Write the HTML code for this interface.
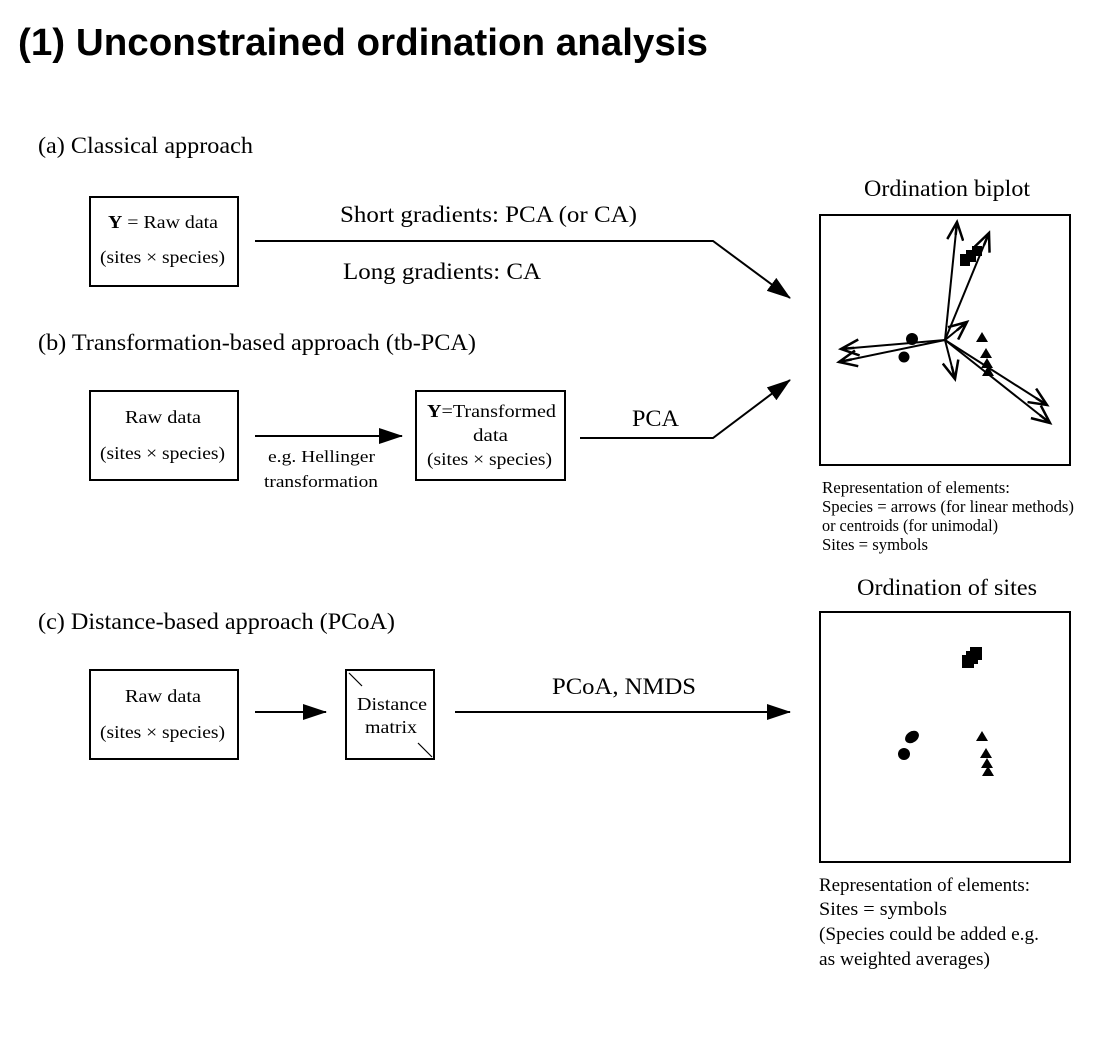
<!DOCTYPE html>
<html><head><meta charset="utf-8"><style>
body{margin:0;background:#fff;width:1110px;height:1042px;overflow:hidden}
svg text{font-family:"Liberation Serif",serif;fill:#000}
</style></head><body>
<svg width="1110" height="1042" viewBox="0 0 1110 1042" xmlns="http://www.w3.org/2000/svg">
<defs>
<marker id="big" markerWidth="24" markerHeight="16" refX="23" refY="8" orient="auto" markerUnits="userSpaceOnUse"><path d="M0,0 L24,8 L0,16 z" fill="#000"/></marker>
<marker id="op" markerWidth="22" markerHeight="18" refX="19" refY="9" orient="auto" markerUnits="userSpaceOnUse"><path d="M1,1 L19,9 L1,17 M19,9 L6,9" fill="none" stroke="#000" stroke-width="2.5"/></marker>
</defs>
<text x="18" y="55" textLength="690" lengthAdjust="spacingAndGlyphs" style="font-family:'Liberation Sans',sans-serif;font-weight:bold;font-size:38px">(1) Unconstrained ordination analysis</text>

<g font-size="23" lengthAdjust="spacingAndGlyphs">
<text x="38" y="153" textLength="215" lengthAdjust="spacingAndGlyphs">(a) Classical approach</text>
<text x="38" y="350" textLength="438" lengthAdjust="spacingAndGlyphs">(b) Transformation-based approach (tb-PCA)</text>
<text x="38" y="629" textLength="357" lengthAdjust="spacingAndGlyphs">(c) Distance-based approach (PCoA)</text>
<text x="340" y="222" textLength="297" lengthAdjust="spacingAndGlyphs">Short gradients: PCA (or CA)</text>
<text x="343" y="279" textLength="198" lengthAdjust="spacingAndGlyphs">Long gradients: CA</text>
<text x="632" y="426" textLength="47" lengthAdjust="spacingAndGlyphs">PCA</text>
<text x="552" y="694" textLength="144" lengthAdjust="spacingAndGlyphs">PCoA, NMDS</text>
<text x="864" y="196" textLength="166" lengthAdjust="spacingAndGlyphs">Ordination biplot</text>
<text x="857" y="595" textLength="180" lengthAdjust="spacingAndGlyphs">Ordination of sites</text>
</g>

<g fill="none" stroke="#000" stroke-width="2">
<rect x="90" y="197" width="148" height="89"/>
<rect x="90" y="391" width="148" height="89"/>
<rect x="416" y="391" width="149" height="89"/>
<rect x="90" y="670" width="148" height="89"/>
<rect x="346" y="670" width="88" height="89"/>
<line x1="349" y1="673" x2="362" y2="686" stroke-width="1.2"/>
<line x1="418" y1="743" x2="432" y2="757" stroke-width="1.2"/>
<rect x="820" y="215" width="250" height="250"/>
<rect x="820" y="612" width="250" height="250"/>
</g>
<g font-size="18" fill="#222">
<text x="108" y="228" textLength="110" lengthAdjust="spacingAndGlyphs"><tspan font-weight="bold">Y</tspan> = Raw data</text>
<text x="100" y="263" textLength="125" lengthAdjust="spacingAndGlyphs">(sites × species)</text>
<text x="125" y="423" textLength="76" lengthAdjust="spacingAndGlyphs">Raw data</text>
<text x="100" y="459" textLength="125" lengthAdjust="spacingAndGlyphs">(sites × species)</text>
<text x="427" y="417" textLength="129" lengthAdjust="spacingAndGlyphs"><tspan font-weight="bold">Y</tspan>=Transformed</text>
<text x="473" y="441" textLength="35" lengthAdjust="spacingAndGlyphs">data</text>
<text x="427" y="465" textLength="125" lengthAdjust="spacingAndGlyphs">(sites × species)</text>
<text x="268" y="462" textLength="107" lengthAdjust="spacingAndGlyphs" font-size="17">e.g. Hellinger</text>
<text x="264" y="487" textLength="114" lengthAdjust="spacingAndGlyphs" font-size="17">transformation</text>
<text x="125" y="702" textLength="76" lengthAdjust="spacingAndGlyphs">Raw data</text>
<text x="100" y="738" textLength="125" lengthAdjust="spacingAndGlyphs">(sites × species)</text>
<text x="357" y="710" textLength="70" lengthAdjust="spacingAndGlyphs">Distance</text>
<text x="365" y="733" textLength="52" lengthAdjust="spacingAndGlyphs">matrix</text>
</g>

<g fill="none" stroke="#000" stroke-width="2">
<polyline points="255,241 713,241 790,298" marker-end="url(#big)"/>
<polyline points="580,438 713,438 790,380" marker-end="url(#big)"/>
<line x1="255" y1="436" x2="402" y2="436" marker-end="url(#big)"/>
<line x1="255" y1="712" x2="326" y2="712" marker-end="url(#big)"/>
<line x1="455" y1="712" x2="790" y2="712" marker-end="url(#big)"/>
</g>

<g fill="#000">
<rect x="960" y="254" width="10" height="12"/><rect x="966" y="250" width="10" height="12"/><rect x="972" y="246" width="10" height="10"/>
<circle cx="912" cy="339" r="6"/><circle cx="904" cy="357" r="5.5"/>
<path d="M982,332 l6,10 h-12z M986,348 l6,10 h-12z M987,358 l6,10 h-12z M988,366 l6,10 h-12z"/>
</g>
<g fill="none" stroke="#000" stroke-width="2">
<line x1="945" y1="340" x2="957" y2="222" marker-end="url(#op)"/>
<line x1="945" y1="340" x2="989" y2="233" marker-end="url(#op)"/>
<line x1="945" y1="340" x2="967" y2="322" marker-end="url(#op)"/>
<line x1="945" y1="340" x2="841" y2="349" marker-end="url(#op)"/>
<line x1="945" y1="340" x2="839" y2="362" marker-end="url(#op)"/>
<line x1="945" y1="340" x2="955" y2="379" marker-end="url(#op)"/>
<line x1="945" y1="340" x2="1047" y2="405" marker-end="url(#op)"/>
<line x1="945" y1="340" x2="1050" y2="423" marker-end="url(#op)"/>
</g>

<g fill="#000">
<rect x="962" y="655" width="12" height="13"/><rect x="970" y="647" width="12" height="13"/><rect x="966" y="651" width="12" height="13"/>
<ellipse cx="912" cy="737" rx="7.5" ry="5.5" transform="rotate(-35 912 737)"/><circle cx="904" cy="754" r="6"/>
<path d="M982,731 l6,10 h-12z M986,748 l6,10 h-12z M987,758 l6,10 h-12z M988,766 l6,10 h-12z"/>
</g>

<g font-size="16.5">
<text x="822" y="493" textLength="188" lengthAdjust="spacingAndGlyphs">Representation of elements:</text>
<text x="822" y="512" textLength="252" lengthAdjust="spacingAndGlyphs">Species = arrows (for linear methods)</text>
<text x="822" y="531" textLength="176" lengthAdjust="spacingAndGlyphs">or centroids (for unimodal)</text>
<text x="822" y="550" textLength="106" lengthAdjust="spacingAndGlyphs">Sites = symbols</text>
</g>
<g font-size="19">
<text x="819" y="891" textLength="211" lengthAdjust="spacingAndGlyphs">Representation of elements:</text>
<text x="819" y="915" textLength="128" lengthAdjust="spacingAndGlyphs">Sites = symbols</text>
<text x="819" y="940" textLength="220" lengthAdjust="spacingAndGlyphs">(Species could be added e.g.</text>
<text x="819" y="965" textLength="171" lengthAdjust="spacingAndGlyphs">as weighted averages)</text>
</g>
</svg>
</body></html>
